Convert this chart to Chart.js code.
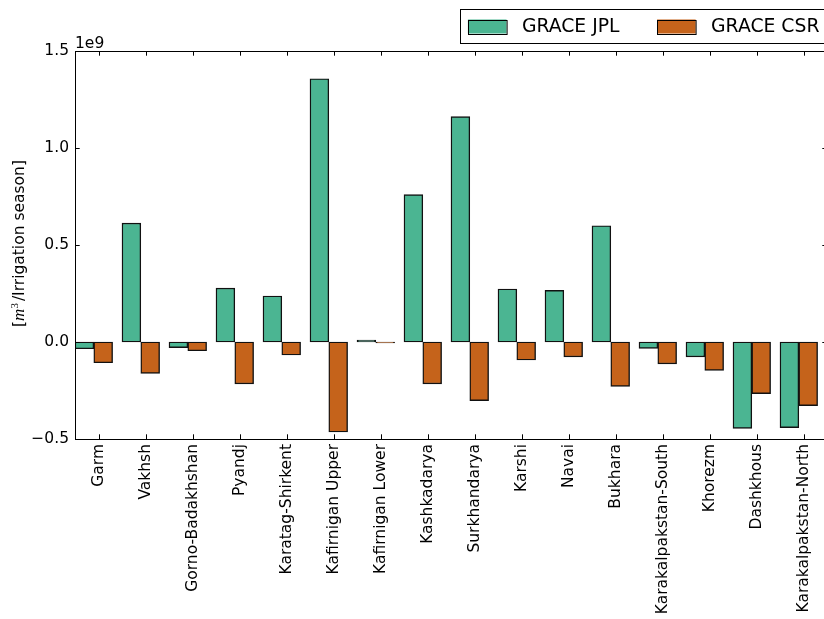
<!DOCTYPE html>
<html>
<head>
<meta charset="utf-8">
<script src="https://cdn.jsdelivr.net/npm/chart.js@4.4.1/dist/chart.umd.min.js"></script>
<style>
  html, body { margin: 0; padding: 0; background: #fff; overflow: hidden; width: 824px; height: 619px; }
  #wrap { position: relative; width: 840px; height: 619px; }
</style>
</head>
<body>
<div id="wrap"><canvas id="c" width="840" height="619"></canvas></div>
<script>
// Irrigation-season water storage change per district, GRACE JPL vs CSR solutions
const districts = [
  'Garm', 'Vakhsh', 'Gorno-Badakhshan', 'Pyandj', 'Karatag-Shirkent',
  'Kafirnigan Upper', 'Kafirnigan Lower', 'Kashkadarya', 'Surkhandarya',
  'Karshi', 'Navai', 'Bukhara', 'Karakalpakstan-South', 'Khorezm',
  'Dashkhous', 'Karakalpakstan-North'
];
// values in m^3 per irrigation season
const graceJPL = [
  -0.035e9, 0.613e9, -0.029e9, 0.278e9, 0.237e9, 1.357e9, 0.010e9, 0.760e9,
  1.162e9, 0.273e9, 0.266e9, 0.599e9, -0.033e9, -0.077e9, -0.445e9, -0.441e9
];
const graceCSR = [
  -0.107e9, -0.162e9, -0.045e9, -0.216e9, -0.067e9, -0.464e9, -0.005e9, -0.216e9,
  -0.302e9, -0.093e9, -0.077e9, -0.229e9, -0.113e9, -0.146e9, -0.266e9, -0.328e9
];
const yTicks = [-0.5e9, 0, 0.5e9, 1.0e9, 1.5e9];
const seriesNames = ['GRACE JPL', 'GRACE CSR'];

const BAR_W = 0.4;       // bar width in category units
const TICK_LEN = 4.7;    // inward tick length, px
const SANS = '"DejaVu Sans", sans-serif';

const fmt = v => {
  const s = Math.abs(v / 1e9).toFixed(1);
  return (v < 0 ? '\u2212' : '') + s;
};

// frame with inward ticks on all four sides, plus the 1e9 offset text
const framePlugin = {
  id: 'frame',
  afterDatasetsDraw(chart) {
    const { ctx, chartArea: a, scales } = chart;
    ctx.save();
    ctx.strokeStyle = '#000';
    ctx.lineWidth = 1;
    ctx.beginPath();
    scales.x.ticks.forEach(t => {
      const px = Math.round(scales.x.getPixelForValue(t.value)) + 0.5;
      ctx.moveTo(px, a.bottom); ctx.lineTo(px, a.bottom - TICK_LEN);
      ctx.moveTo(px, a.top); ctx.lineTo(px, a.top + TICK_LEN);
    });
    scales.y.ticks.forEach(t => {
      const py = Math.round(scales.y.getPixelForValue(t.value)) + 0.5;
      ctx.moveTo(a.left, py); ctx.lineTo(a.left + TICK_LEN, py);
      ctx.moveTo(a.right, py); ctx.lineTo(a.right - TICK_LEN, py);
    });
    ctx.stroke();
    ctx.strokeRect(Math.round(a.left) + 0.5, Math.round(a.top) + 0.5,
      Math.round(a.right - a.left), Math.round(a.bottom - a.top));

    ctx.fillStyle = '#000';
    ctx.font = '15.5px ' + SANS;
    ctx.textAlign = 'left';
    ctx.textBaseline = 'alphabetic';
    ctx.fillText('1e9', a.left, a.top - 3.5);
    ctx.restore();
  }
};

// y-axis title with the mathtext-style unit
const yTitlePlugin = {
  id: 'ytitle',
  afterDraw(chart) {
    const { ctx, chartArea: a } = chart;
    const parts = [
      { t: '[', f: '15.5px ' + SANS, dy: 0 },
      { t: 'm', f: 'italic 17px "Liberation Serif", serif', dy: 0 },
      { t: '3', f: '11px "Liberation Serif", serif', dy: -6 },
      { t: '/Irrigation season]', f: '15.5px ' + SANS, dy: 0 }
    ];
    ctx.save();
    let total = 0;
    parts.forEach(p => { ctx.font = p.f; p.w = ctx.measureText(p.t).width; total += p.w; });
    total += 2;
    ctx.translate(24, (a.top + a.bottom) / 2 - 1.5);
    ctx.rotate(-Math.PI / 2);
    ctx.fillStyle = '#000';
    ctx.textBaseline = 'alphabetic';
    ctx.textAlign = 'left';
    let x = -total / 2;
    parts.forEach((p, i) => {
      ctx.font = p.f;
      ctx.fillText(p.t, x, p.dy);
      x += p.w + (i === 2 ? 2 : 0);
    });
    ctx.restore();
  }
};

// boxed legend above the top-right of the plot
const legendPlugin = {
  id: 'boxLegend',
  afterDraw(chart) {
    const { ctx, chartArea: a } = chart;
    const ds = chart.data.datasets;
    ctx.save();
    ctx.font = '18.8px ' + SANS;
    const padL = 7.4, swW = 38.6, swH = 14, gap = 15.4, between = 37.5;
    const widths = ds.map(d => ctx.measureText(d.label).width);
    let w = padL;
    widths.forEach((tw, i) => { w += swW + gap + tw + (i < ds.length - 1 ? between : padL); });
    const boxTop = 9.5, boxH = 34;
    const left = Math.round(a.right - w) - 0.5;
    ctx.fillStyle = '#fff';
    ctx.fillRect(left, boxTop, w, boxH);
    ctx.strokeStyle = '#000';
    ctx.lineWidth = 1;
    ctx.strokeRect(left, boxTop, w, boxH);
    let x = left + padL;
    const cy = boxTop + boxH / 2;
    ds.forEach((d, i) => {
      ctx.fillStyle = d.backgroundColor;
      ctx.fillRect(x, cy - swH / 2, swW, swH);
      ctx.strokeStyle = '#000';
      ctx.strokeRect(Math.round(x) + 0.5, Math.round(cy - swH / 2) + 0.5, swW, swH);
      x += swW + gap;
      ctx.fillStyle = '#000';
      ctx.textBaseline = 'middle';
      ctx.textAlign = 'left';
      ctx.fillText(d.label, x, cy + 1);
      x += widths[i] + between;
    });
    ctx.restore();
  }
};

const jplData = graceJPL.map((v, i) => ({ x: i + BAR_W / 2, y: v }));
const csrData = graceCSR.map((v, i) => ({ x: i + BAR_W * 1.5, y: v }));

new Chart(document.getElementById('c'), {
  type: 'bar',
  data: {
    datasets: [
      { label: seriesNames[0], data: jplData, backgroundColor: '#4bb592', borderColor: '#111', borderWidth: 1.4, borderSkipped: false },
      { label: seriesNames[1], data: csrData, backgroundColor: '#c5631b', borderColor: '#111', borderWidth: 1.4, borderSkipped: false }
    ]
  },
  options: {
    responsive: false,
    animation: false,
    events: [],
    layout: { padding: { left: 0, right: 13, top: 51, bottom: 0 } },
    datasets: { bar: { grouped: false, barPercentage: 1, categoryPercentage: 1 } },
    plugins: { legend: { display: false }, tooltip: { enabled: false } },
    scales: {
      x: {
        type: 'linear',
        min: 0,
        max: districts.length,
        offset: false,
        grid: { display: false, drawTicks: false },
        border: { display: false },
        afterBuildTicks: s => { s.ticks = districts.map((_, i) => ({ value: i + 0.5 })); },
        afterFit: s => { s.height = 180; },
        ticks: {
          autoSkip: false,
          minRotation: 90,
          maxRotation: 90,
          padding: 5,
          color: '#000',
          font: { family: SANS, size: 15.5 },
          callback: v => districts[Math.round(v - 0.5)]
        }
      },
      y: {
        min: yTicks[0],
        max: yTicks[yTicks.length - 1],
        grid: { display: false, drawTicks: false },
        border: { display: false },
        afterBuildTicks: s => { s.ticks = yTicks.map(v => ({ value: v })); },
        afterFit: s => { s.width = 75; },
        ticks: {
          padding: 6,
          color: '#000',
          font: { family: SANS, size: 15.5 },
          callback: v => fmt(v)
        }
      }
    }
  },
  plugins: [framePlugin, yTitlePlugin, legendPlugin]
});
</script>
</body>
</html>
